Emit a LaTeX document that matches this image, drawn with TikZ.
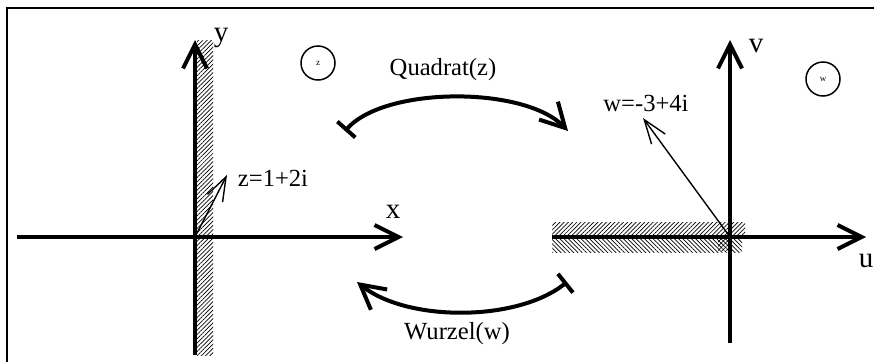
\documentclass[tikz,border=0pt]{standalone}
\usepackage{fontspec}
\setmainfont{Liberation Serif}
\usetikzlibrary{arrows.meta,patterns.meta}

\begin{document}
\begin{tikzpicture}[x=1pt,y=-1pt,
  axisline/.style={line width=4pt,
    -{Straight Barb[length=24pt,width=24pt,line width=4pt]}},
  plainaxis/.style={line width=4pt},
  vecline/.style={line width=1.4pt,
    -{Straight Barb[length=24pt,width=17pt,line width=1.4pt]}},
  maparc/.style={line width=4pt,
    {Bar[width=24pt,line width=4pt]}-{Straight Barb[length=24pt,width=26pt,line width=4pt]}},
  txt/.style={inner sep=0pt, font=\fontsize{24.6}{29}\selectfont},
  axtxt/.style={inner sep=0pt, font=\fontsize{29}{33}\selectfont},
  planemark/.style={circle, draw, line width=1.5pt, minimum size=34pt,
    inner sep=0pt, font=\fontsize{9}{10}\selectfont},
  frameline/.style={line width=2pt},
  hatchne/.style={pattern={Lines[angle=45,distance=3pt,line width=0.7pt]}},
  hatchnw/.style={pattern={Lines[angle=-45,distance=3pt,line width=0.7pt]}}]
\useasboundingbox (0,0) rectangle (874,362);

% frame
\draw[frameline] (7,362) -- (7,8) -- (874,8);

% ---- z-plane ----
\coordinate (zo) at (195,237);
\coordinate (xl) at (17,237);
\coordinate (xr) at (403,237);
\coordinate (yb) at (195,355);
\coordinate (yt) at (195,40);
\coordinate (zp) at (227,175);

% hatched half-plane boundary
\fill[hatchne] (197,40) rectangle (213,355);

\draw[plainaxis] (xl) -- (zo);
\draw[axisline] (zo) -- (xr);
\draw[axisline] (yb) -- (yt);
\draw[vecline] (zo) -- (zp);

\node[axtxt] (xlab) at (393,212) {x};
\node[axtxt] (ylab) at (221,38) {y};
\node[txt] (zlab) at (273,178) {z=1+2i};
\node[planemark] (zc) at (318,63) {z};

% ---- w-plane ----
\coordinate (wo) at (730,237);
\coordinate (ul) at (552,237);
\coordinate (ur) at (866,237);
\coordinate (vb) at (730,343);
\coordinate (vt) at (730,40);
\coordinate (wp) at (643,118);

% hatched branch cut along the negative real axis
\fill[hatchne] (552,222) rectangle (745,237);
\fill[hatchnw] (552,237) rectangle (742,252);
\fill[hatchne] (718,237) rectangle (729,250);

\draw[plainaxis] (ul) -- (wo);
\draw[axisline] (wo) -- (ur);
\draw[plainaxis] (vb) -- (wo);
\draw[axisline] (wo) -- (vt);
\draw[vecline] (wo) -- (wp);

\node[axtxt] (ulab) at (866,261) {u};
\node[axtxt] (vlab) at (756,46) {v};
\node[txt] (wlab) at (646,103) {w=-3+4i};
\node[planemark] (wc) at (823,79) {w};

% ---- mappings ----
\coordinate (qs) at (345,131);
\coordinate (qe) at (568,131);
\coordinate (rs) at (567,282);
\coordinate (re) at (357,282);

\draw[maparc] (qs) .. controls (385,86) and (525,86) .. (qe);
\draw[maparc] (rs) .. controls (517,322) and (407,322) .. (re);

\node[txt] (qlab) at (443,70) {Quadrat(z)};
\node[txt] (rlab) at (457,334) {Wurzel(w)};
\end{tikzpicture}
\end{document}
